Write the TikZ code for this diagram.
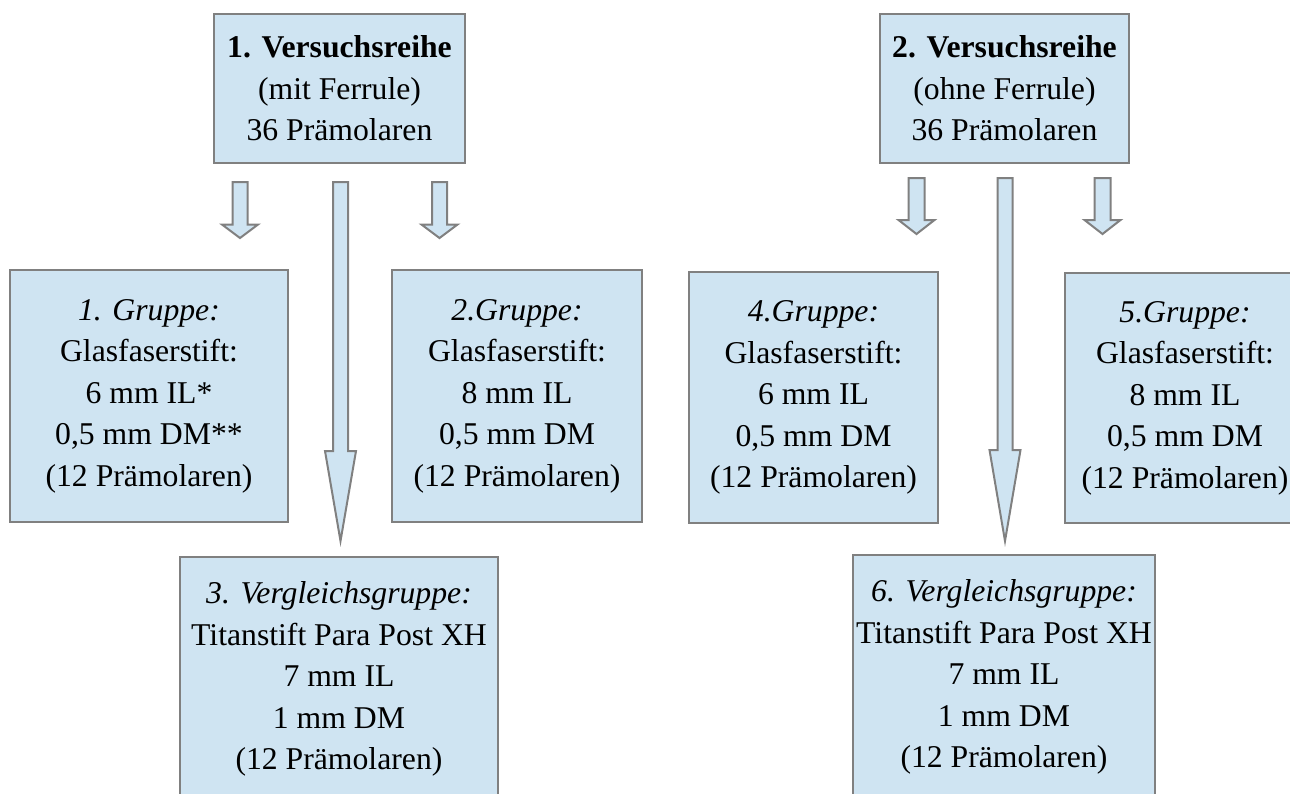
\documentclass[tikz,border=0pt]{standalone}
\usepackage{fontspec}
\setmainfont{Liberation Serif}
\usetikzlibrary{calc}

\definecolor{kastenblau}{RGB}{207,228,242}
\definecolor{kastenrand}{RGB}{128,128,128}

% Blockpfeil: Start, Spitze, halbe Schaftbreite, halbe Kopfbreite, Kopflaenge
\newcommand{\blockpfeil}[5]{%
  \draw[pfeil] let \p1=(#1), \p2=(#2) in
    (\x1-#3,\y1) -- (\x1+#3,\y1) -- (\x1+#3,\y2+#5) -- (\x1+#4,\y2+#5)
    -- (\x1,\y2) -- (\x1-#4,\y2+#5) -- (\x1-#3,\y2+#5) -- cycle;}

\begin{document}
\begin{tikzpicture}[x=0.5pt,y=-0.5pt,
  kasten/.style={draw=kastenrand, fill=kastenblau, line width=1pt, inner sep=0pt,
    align=center, font=\fontsize{15.85}{20.75}\selectfont},
  pfeil/.style={draw=kastenrand, fill=kastenblau, line width=1pt, line join=miter}]
\useasboundingbox (0,0) rectangle (1290,793);

% Versuchsreihen
\node[kasten, minimum width=125.5pt, minimum height=74.5pt] (reihe1) at (339.5,88.5)
  {\textbf{1. Versuchsreihe}\\(mit Ferrule)\\36 Prämolaren};
\node[kasten, minimum width=124.5pt, minimum height=74.5pt] (reihe2) at (1004.5,88.5)
  {\textbf{2. Versuchsreihe}\\(ohne Ferrule)\\36 Prämolaren};

% Gruppen
\node[kasten, minimum width=139pt, minimum height=126pt] (gruppe1) at (149,396)
  {\textit{1. Gruppe:}\\Glasfaserstift:\\6 mm IL*\\0,5 mm DM**\\(12 Prämolaren)};
\node[kasten, minimum width=125pt, minimum height=126pt] (gruppe2) at (517,396)
  {\textit{2.Gruppe:}\\Glasfaserstift:\\8 mm IL\\0,5 mm DM\\(12 Prämolaren)};
\node[kasten, minimum width=159pt, minimum height=122pt] (gruppe3) at (339,679)
  {\textit{3. Vergleichsgruppe:}\\Titanstift Para Post XH\\7 mm IL\\1 mm DM\\(12 Prämolaren)};
\node[kasten, minimum width=124.5pt, minimum height=125.5pt] (gruppe4) at (813.5,397.5)
  {\textit{4.Gruppe:}\\Glasfaserstift:\\6 mm IL\\0,5 mm DM\\(12 Prämolaren)};
\node[kasten, minimum width=120pt, minimum height=125pt] (gruppe5) at (1185,398)
  {\textit{5.Gruppe:}\\Glasfaserstift:\\8 mm IL\\0,5 mm DM\\(12 Prämolaren)};
\node[kasten, minimum width=151pt, minimum height=122pt] (gruppe6) at (1004,677)
  {\textit{6. Vergleichsgruppe:}\\Titanstift Para Post XH\\7 mm IL\\1 mm DM\\(12 Prämolaren)};

% Pfeile
\coordinate (p1a) at (240,182);     \coordinate (p1b) at (240,238);
\coordinate (p2a) at (439.5,182);   \coordinate (p2b) at (439.5,238);
\coordinate (p3a) at (340.5,182);   \coordinate (p3b) at (340.5,541);
\coordinate (p4a) at (916.5,178);   \coordinate (p4b) at (916.5,234);
\coordinate (p5a) at (1102.5,178);  \coordinate (p5b) at (1102.5,234);
\coordinate (p6a) at (1005,178);    \coordinate (p6b) at (1005,541);

\blockpfeil{p1a}{p1b}{3.75pt}{9pt}{6.75pt}
\blockpfeil{p2a}{p2b}{3.75pt}{9pt}{6.75pt}
\blockpfeil{p3a}{p3b}{3.75pt}{7.75pt}{45pt}
\blockpfeil{p4a}{p4b}{4pt}{9pt}{7pt}
\blockpfeil{p5a}{p5b}{4pt}{9pt}{7pt}
\blockpfeil{p6a}{p6b}{3.75pt}{7.75pt}{45.5pt}
\end{tikzpicture}
\end{document}
